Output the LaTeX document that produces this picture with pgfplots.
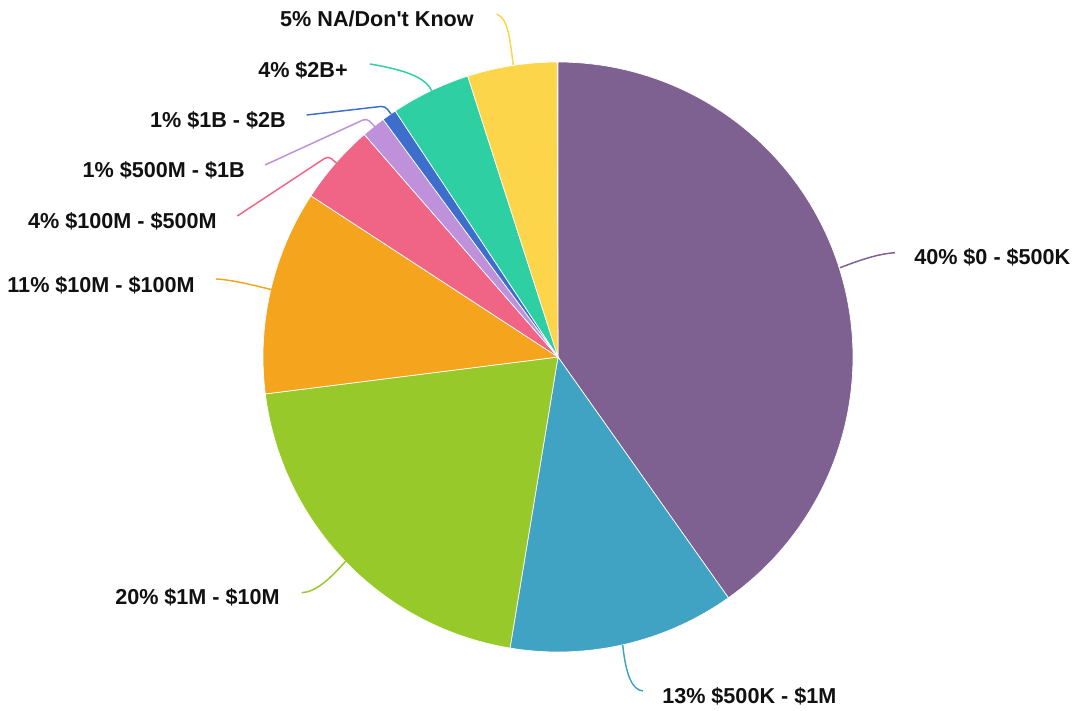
\documentclass[border=0pt]{standalone}
\usepackage{pgfplots}
\pgfplotsset{compat=1.18}
\usepackage{pgfplotstable}
\usepackage{fontspec}
\setmainfont{Liberation Sans}[Ligatures=TeXOff]

\definecolor{c0}{HTML}{7E6191}
\definecolor{c1}{HTML}{41A3C3}
\definecolor{c2}{HTML}{97C92A}
\definecolor{c3}{HTML}{F5A51D}
\definecolor{c4}{HTML}{F06585}
\definecolor{c5}{HTML}{BE91DA}
\definecolor{c6}{HTML}{3D6ECC}
\definecolor{c7}{HTML}{2DCFA3}
\definecolor{c8}{HTML}{FCD54A}
\definecolor{txt}{HTML}{111111}

% shares in percent, clockwise from 12 o'clock
\pgfplotstableread{
share
40.2
12.4
20.4
11.2
4.4
1.3
0.8
4.35
4.9
}\piedata

\begin{document}
\begin{tikzpicture}
\begin{axis}[x=0.75pt, y=0.75pt,
  xmin=-558, xmax=518, ymin=-354, ymax=357,
  hide axis, clip=false]
\path (rel axis cs:0,0) rectangle (rel axis cs:1,1);
\def\cum{0}
\pgfplotsinvokeforeach{0,1,2,3,4,5,6,7,8}{
  \pgfplotstablegetelem{#1}{share}\of\piedata
  \pgfmathsetmacro\angA{90-3.6*\cum}
  \pgfmathsetmacro\cum{\cum+\pgfplotsretval}
  \pgfmathsetmacro\angB{90-3.6*\cum}
  \addplot[fill=c#1, draw=white, line width=0.5pt, data cs=polar,
    domain=\angB:\angA, samples=90] ({x},{295}) -- (axis cs:0,0) -- cycle;
}

% leader lines
\draw[c0, line width=1.1pt] (axis cs:282,89.3) .. controls (axis cs:305,98) and (axis cs:320,103) .. (axis cs:337,104.3);
\draw[c1, line width=1.1pt] (axis cs:64.7,-288) .. controls (axis cs:68,-318) and (axis cs:74,-333) .. (axis cs:85,-334);
\draw[c2, line width=1.1pt] (axis cs:-211.3,-203) .. controls (axis cs:-228,-222) and (axis cs:-242,-235) .. (axis cs:-256.3,-235.7);
\draw[c3, line width=1.1pt] (axis cs:-285.3,67) .. controls (axis cs:-305,72) and (axis cs:-325,77) .. (axis cs:-342,78);
\draw[c4, line width=1.1pt, rounded corners=3pt] (axis cs:-221.3,193.7) -- (axis cs:-229.7,201) -- (axis cs:-320.7,141);
\draw[c5, line width=1.1pt, rounded corners=3pt] (axis cs:-183,230.3) -- (axis cs:-191.3,238.7) -- (axis cs:-293,192);
\draw[c6, line width=1.1pt, rounded corners=3pt] (axis cs:-167,243) -- (axis cs:-173,251) -- (axis cs:-251.3,242);
\draw[c7, line width=1.1pt] (axis cs:-126.3,266.3) .. controls (axis cs:-131,275) and (axis cs:-140,285) .. (axis cs:-188,293);
\draw[c8, line width=1.1pt] (axis cs:-44.7,292) .. controls (axis cs:-48,315) and (axis cs:-49,338) .. (axis cs:-61.3,343);

% labels
\begin{scope}[every node/.style={font=\fontsize{16.2}{19}\selectfont\bfseries, text=txt, inner sep=0pt}]
\node[anchor=base west] at (axis cs:356,92.5) {40\% \$0 - \$500K};
\node[anchor=base west] at (axis cs:104,-346.5) {13\% \$500K - \$1M};
\node[anchor=base east] at (axis cs:-278,-247.5) {20\% \$1M - \$10M};
\node[anchor=base east] at (axis cs:-363,64.5) {11\% \$10M - \$100M};
\node[anchor=base east] at (axis cs:-341,128.5) {4\% \$100M - \$500M};
\node[anchor=base east] at (axis cs:-313,179.5) {1\% \$500M - \$1B};
\node[anchor=base east] at (axis cs:-272,229.5) {1\% \$1B - \$2B};
\node[anchor=base east] at (axis cs:-210,279.5) {4\% \$2B+};
\node[anchor=base east] at (axis cs:-84,330.5) {5\% NA/Don't Know};
\end{scope}
\end{axis}
\end{tikzpicture}
\end{document}
